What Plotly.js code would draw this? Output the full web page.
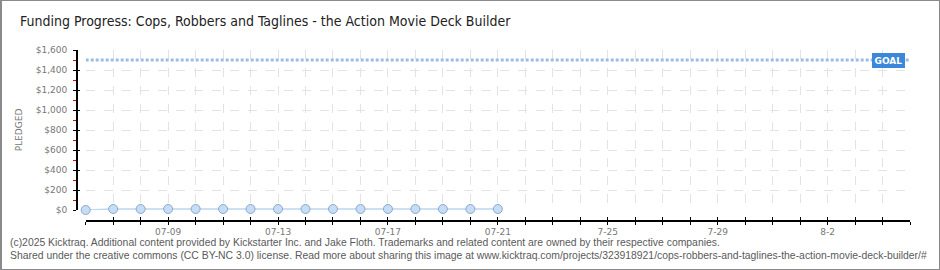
<!DOCTYPE html>
<html>
<head>
<meta charset="utf-8">
<script src="https://cdn.plot.ly/plotly-3.0.1.min.js"></script>
<style>
  html, body { margin: 0; padding: 0; background: #fff; }
  #wrap { position: relative; width: 940px; height: 270px; }
  #chart { width: 940px; height: 270px; }
  #frame { position: absolute; left: 0; top: 0; width: 940px; height: 270px; box-sizing: border-box;
           border: 1px solid #8a8a8a; border-left-width: 2px; pointer-events: none; }
</style>
</head>
<body>
<div id="wrap"><div id="chart"></div><div id="frame"></div></div>
<script>
// ---- data ----
const titleText = "Funding Progress: Cops, Robbers and Taglines - the Action Movie Deck Builder";
const pledgeDates = ["2025-07-06","2025-07-07","2025-07-08","2025-07-09","2025-07-10","2025-07-11","2025-07-12","2025-07-13",
                     "2025-07-14","2025-07-15","2025-07-16","2025-07-17","2025-07-18","2025-07-19","2025-07-20","2025-07-21"];
const pledgedValues = [0, 10, 10, 10, 10, 10, 10, 10, 10, 10, 10, 10, 10, 10, 10, 10];
const goalDates = ["2025-07-06", "2025-08-05"];
const goalValues = [1500, 1500];
const tickDates = ["2025-07-06","2025-07-07","2025-07-08","2025-07-09","2025-07-10","2025-07-11","2025-07-12","2025-07-13",
                   "2025-07-14","2025-07-15","2025-07-16","2025-07-17","2025-07-18","2025-07-19","2025-07-20","2025-07-21",
                   "2025-07-22","2025-07-23","2025-07-24","2025-07-25","2025-07-26","2025-07-27","2025-07-28","2025-07-29",
                   "2025-07-30","2025-07-31","2025-08-01","2025-08-02","2025-08-03","2025-08-04","2025-08-05"];
const tickLabels = ["","","","07-09","","","","07-13","","","","07-17","","","","07-21",
                    "","","","7-25","","","","7-29","","","","8-2","","",""];
const xRange = ["2025-07-06", "2025-08-05"];
const yRange = [0, 1600];
const footer1 = "(c)2025 Kicktraq. Additional content provided by Kickstarter Inc. and Jake Floth. Trademarks and related content are owned by their respective companies.";
const footer2 = "Shared under the creative commons (CC BY-NC 3.0) license. Read more about sharing this image at www.kicktraq.com/projects/323918921/cops-robbers-and-taglines-the-action-movie-deck-builder/#";

// ---- layout geometry ----
const W = 940, H = 270;
const L = 76, R = 910, T = 50, B = 220;
const pw = R - L, ph = B - T;
const xDomStart = 9.7 / pw;
const yDomStart = 10 / ph;
const tickFont = {family: "DejaVu Sans, sans-serif", size: 9, color: "#777"};
const footFont = {family: "Liberation Sans, sans-serif", size: 10.4, color: "#5a5a5a"};

const traces = [
  {
    x: goalDates, y: goalValues, type: "scatter", mode: "lines",
    line: {color: "#9bbde4", width: 3, dash: "3px,2px"},
    hoverinfo: "skip", showlegend: false, cliponaxis: false
  },
  {
    x: pledgeDates, y: pledgedValues, type: "scatter", mode: "lines+markers",
    line: {color: "#bcd6f1", width: 1.5},
    marker: {size: 9, color: "#c5ddf6", line: {color: "#8ea9c9", width: 1}},
    showlegend: false, cliponaxis: false
  },
  { x: [], y: [], xaxis: "x2", yaxis: "y2", type: "scatter", showlegend: false, hoverinfo: "skip" }
];

const layout = {
  width: W, height: H,
  margin: {l: L, r: W - R, t: T, b: H - B, pad: 0},
  paper_bgcolor: "#fff", plot_bgcolor: "#fff",
  title: {
    text: titleText, x: 20 / W, xanchor: "left", xref: "container",
    y: 1 - 21 / H, yanchor: "middle", yref: "container",
    font: {family: "DejaVu Sans Condensed, sans-serif", size: 14, color: "#222"}
  },
  xaxis: {
    type: "date", range: xRange, domain: [xDomStart, 1],
    anchor: "free", position: 0,
    tickmode: "array", tickvals: tickDates, ticktext: tickLabels,
    ticks: "outside", ticklen: 3, tickwidth: 1, tickcolor: "#000",
    showline: true, linecolor: "#000", linewidth: 1.5,
    showgrid: true, gridcolor: "#e3e3e3", griddash: "dash", gridwidth: 1,
    zeroline: false, tickfont: tickFont, fixedrange: true
  },
  yaxis: {
    range: yRange, domain: [yDomStart, 1],
    anchor: "free", position: 0,
    tickmode: "linear", tick0: 0, dtick: 200,
    tickprefix: "$", separatethousands: true, ticklabelstandoff: 4,
    ticks: "outside", ticklen: 3, tickwidth: 1, tickcolor: "#000",
    minor: {dtick: 100, tick0: 0, ticks: "outside", ticklen: 3, tickcolor: "#e00000", showgrid: false},
    showline: true, linecolor: "#000", linewidth: 1.5,
    showgrid: true, gridcolor: "#e3e3e3", griddash: "dash", gridwidth: 1,
    zeroline: false, tickfont: tickFont, fixedrange: true,
    title: {text: "PLEDGED", standoff: 10, font: {family: "DejaVu Sans, sans-serif", size: 9, color: "#777"}}
  },
  xaxis2: {
    type: "date", range: xRange, domain: [xDomStart, 1], overlaying: "x",
    anchor: "free", position: 0,
    tickmode: "array", tickvals: tickDates, ticktext: tickDates.map(() => ""),
    ticks: "inside", ticklen: 3, tickwidth: 1, tickcolor: "#000",
    showline: false, showgrid: false, zeroline: false, showticklabels: false, fixedrange: true
  },
  yaxis2: {
    range: yRange, domain: [yDomStart, 1], overlaying: "y",
    anchor: "free", position: 0,
    tickmode: "linear", tick0: 0, dtick: 200,
    ticks: "inside", ticklen: 3, tickwidth: 1, tickcolor: "#000",
    showline: false, showgrid: false, zeroline: false, showticklabels: false, fixedrange: true
  },
  annotations: [
    {
      x: goalDates[1], y: goalValues[1], xref: "x", yref: "y",
      text: "<b>GOAL</b>", showarrow: false, xanchor: "right", yanchor: "middle", xshift: -5,
      bgcolor: "#3b87d9", bordercolor: "#3b87d9", borderpad: 1.5,
      font: {family: "DejaVu Sans, sans-serif", size: 9, color: "#fff"}
    },
    {
      x: (8 - L) / pw, y: -(242 - B) / ph, xref: "paper", yref: "paper",
      text: footer1, showarrow: false, xanchor: "left", yanchor: "middle", font: footFont
    },
    {
      x: (8 - L) / pw, y: -(255 - B) / ph, xref: "paper", yref: "paper",
      text: footer2, showarrow: false, xanchor: "left", yanchor: "middle", font: footFont
    }
  ]
};

Plotly.newPlot("chart", traces, layout, {staticPlot: true, displayModeBar: false});
</script>
</body>
</html>
